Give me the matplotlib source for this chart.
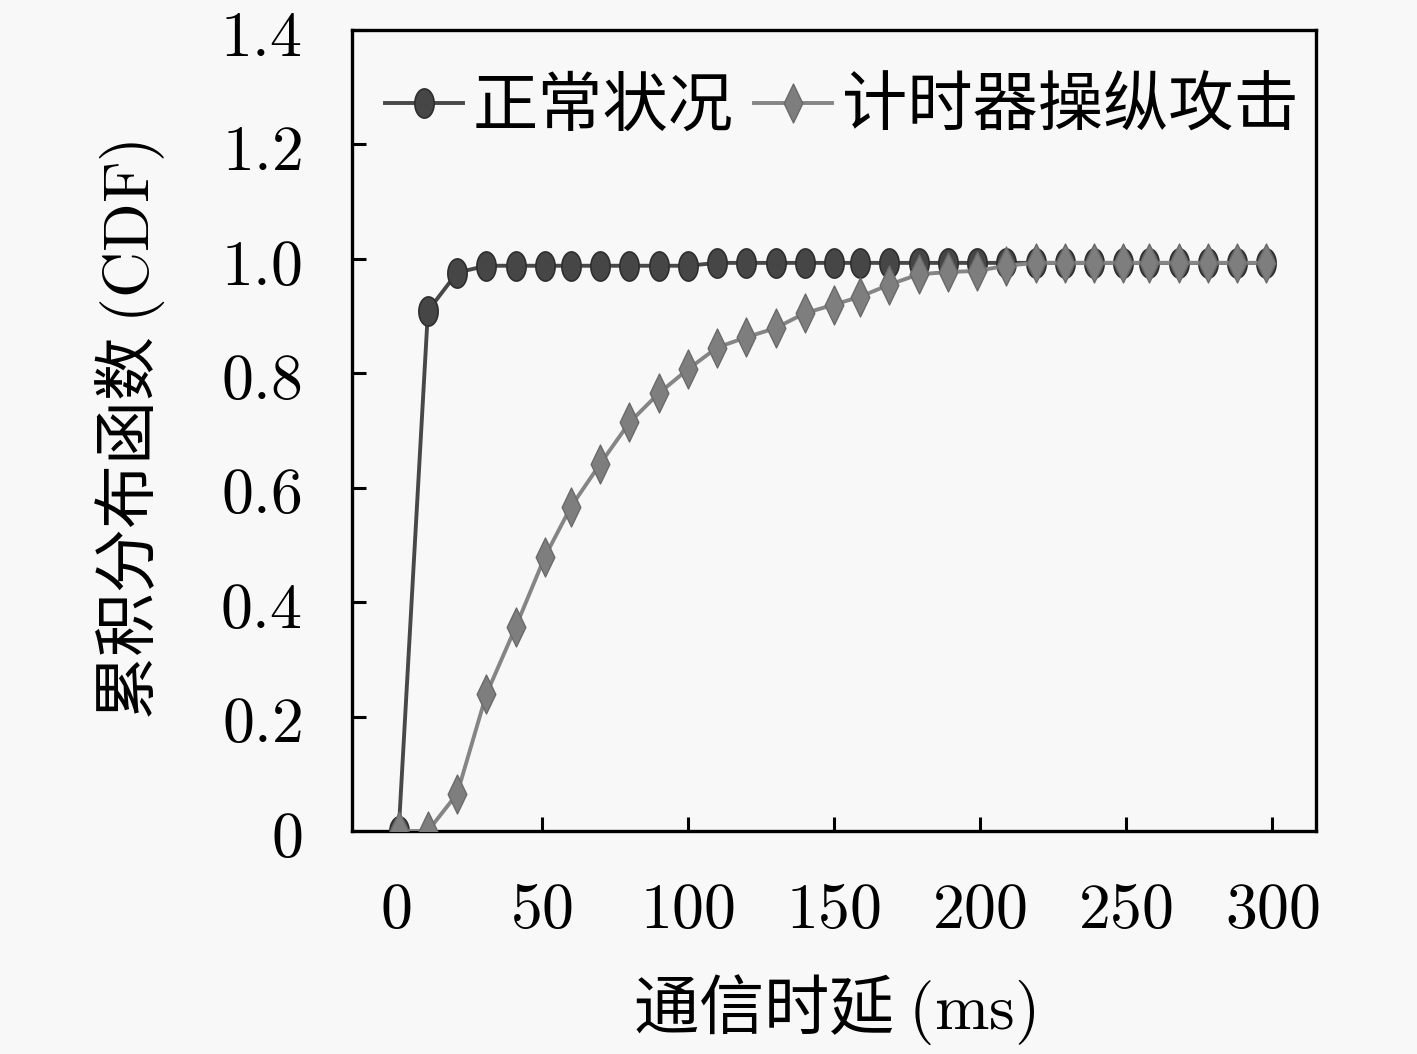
import matplotlib
matplotlib.use('Agg')
import matplotlib.pyplot as plt
from matplotlib.path import Path
import numpy as np

plt.rcParams['font.family'] = ['Noto Sans CJK SC', 'DejaVu Sans']
plt.rcParams['mathtext.fontset'] = 'cm'

# ---- data ----
delay_ms = [1, 11, 21, 31, 41, 51, 60, 70, 80, 90, 100, 110, 120, 130, 140, 150,
            159, 169, 179, 189, 199, 209, 219, 229, 239, 249, 258, 268, 278, 288, 298]
normal_cdf = [0, 0.909, 0.976, 0.988, 0.988, 0.988, 0.988, 0.988, 0.988, 0.988, 0.988,
              0.993, 0.993, 0.993, 0.993, 0.993, 0.993, 0.993, 0.993, 0.993, 0.993,
              0.993, 0.993, 0.993, 0.993, 0.993, 0.993, 0.993, 0.993, 0.993, 0.993]
attack_cdf = [0, 0, 0.065, 0.239, 0.356, 0.479, 0.567, 0.642, 0.714, 0.765, 0.807,
              0.845, 0.863, 0.879, 0.905, 0.920, 0.934, 0.955, 0.973, 0.977, 0.979,
              0.988, 0.993, 0.993, 0.993, 0.993, 0.993, 0.993, 0.993, 0.993, 0.993]
series_labels = ['正常状况', '计时器操纵攻击']
xticks = [0, 50, 100, 150, 200, 250, 300]
xtick_labels = ['0', '50', '100', '150', '200', '250', '300']
yticks = [0, 0.2, 0.4, 0.6, 0.8, 1.0, 1.2, 1.4]
ytick_labels = ['0', '0.2', '0.4', '0.6', '0.8', '1.0', '1.2', '1.4']
xlabel = '通信时延 $\\mathrm{(ms)}$'
ylabel = '累积分布函数 $\\mathrm{(CDF)}$'

# ---- marker shapes ----
t = np.linspace(0, 2 * np.pi, 60)
ellipse = Path(np.column_stack([0.33 * np.cos(t), 0.5 * np.sin(t)]), closed=True)
diamond = Path([(0, 0.5), (0.24, 0), (0, -0.5), (-0.24, 0), (0, 0.5)], closed=True)

bg = '#f8f8f8'
fig = plt.figure(figsize=(14.17, 10.54), dpi=100, facecolor=bg)
ax = fig.add_axes([0.2484, 0.2116, 0.6803, 0.7599], facecolor=bg)

ax.plot(delay_ms, normal_cdf, color='#484848', lw=2.8, marker=ellipse, ms=21,
        mfc='#464646', mec='#2e2e2e', mew=1.2, label=series_labels[0], zorder=3)
ax.plot(delay_ms, attack_cdf, color='#858585', lw=2.8, marker=diamond, ms=28,
        mfc='#7e7e7e', mec='#6a6a6a', mew=1.0, label=series_labels[1], zorder=4)

ax.set_xlim(-15, 315)
ax.set_ylim(0, 1.4)
ax.set_xticks(xticks)
ax.set_xticklabels(['$%s$' % s for s in xtick_labels])
ax.set_yticks(yticks)
ax.set_yticklabels(['$%s$' % s for s in ytick_labels])
ax.tick_params(axis='both', direction='in', length=10, width=2.2, labelsize=46,
               top=False, right=False, colors='black')
ax.tick_params(axis='x', pad=33)
ax.tick_params(axis='y', pad=36)
for sp in ax.spines.values():
    sp.set_linewidth(2.4)
    sp.set_color('black')

ax.set_xlabel(xlabel, fontsize=47, va='center')
ax.xaxis.set_label_coords(0.5, -0.2235)
ax.set_ylabel(ylabel, fontsize=46, va='center')
ax.yaxis.set_label_coords(-0.23, 0.5)

leg = ax.legend(loc='upper left', bbox_to_anchor=(0.007, 0.977), ncol=2, frameon=False,
                fontsize=47, handlelength=1.2, handletextpad=0.15, columnspacing=0.3,
                borderaxespad=0.0)

fig.savefig('out.png', dpi=100, facecolor=bg)
